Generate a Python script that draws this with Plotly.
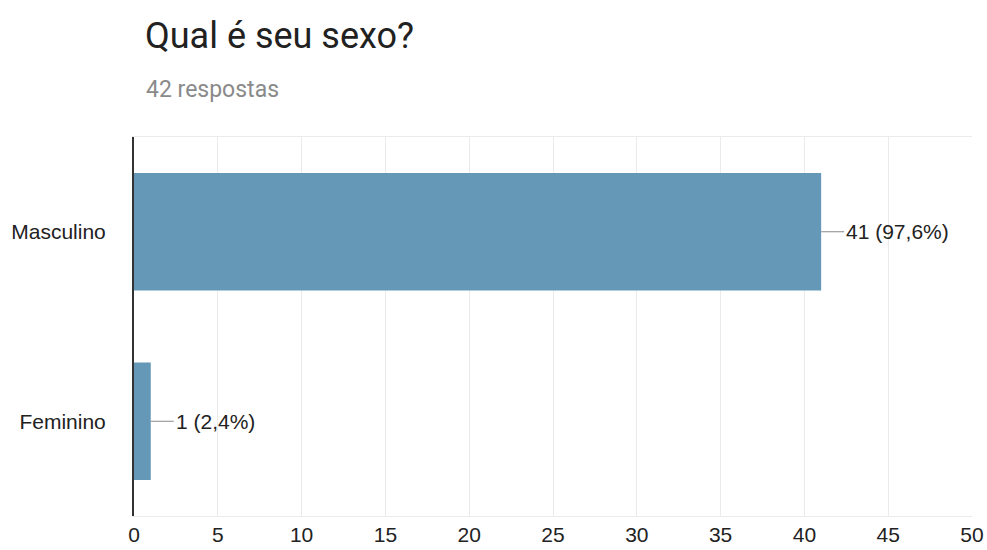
import plotly.graph_objects as go

categories = ["Masculino", "Feminino"]
counts = [41, 1]
labels = ["41 (97,6%)", "1 (2,4%)"]
x_ticks = [0, 5, 10, 15, 20, 25, 30, 35, 40, 45, 50]

W, H = 987, 550
ml, mr, mt, mb = 134, 15, 137, 34

fig = go.Figure()
fig.add_trace(go.Bar(
    x=counts, y=categories, orientation="h",
    marker=dict(color="#6598b6", line=dict(width=0)),
    hoverinfo="skip",
))

for c, v, t in zip(categories, counts, labels):
    fig.add_annotation(
        x=v, y=c, xref="x", yref="y",
        text=t, showarrow=True, arrowhead=0, arrowwidth=1, arrowcolor="#8a8a8a",
        ax=23, ay=0, xanchor="left", yanchor="middle",
        font=dict(family="Arial, Liberation Sans, sans-serif", size=21, color="#222222"),
    )

fig.add_annotation(
    text="42 respostas", xref="paper", yref="paper",
    x=(144 - ml) / (W - ml - mr), y=1 + (137 - 90) / (H - mt - mb),
    xanchor="left", yanchor="middle", showarrow=False,
    font=dict(family="Roboto, sans-serif", size=23, color="#8a8a8a"),
)

fig.update_layout(
    width=W, height=H,
    margin=dict(l=ml, r=mr, t=mt, b=mb, autoexpand=False),
    paper_bgcolor="white", plot_bgcolor="white",
    showlegend=False,
    bargap=0.38,
    title=dict(text="Qual é seu sexo?", xref="container", yref="container",
               x=145 / W, y=1 - 35 / H, xanchor="left", yanchor="middle",
               font=dict(family="Roboto, sans-serif", size=36, color="#212121")),
    xaxis=dict(range=[0, 50], tickvals=x_ticks, showgrid=True, gridcolor="#ebebeb", gridwidth=1,
               zeroline=False, showline=True, linecolor="#ebebeb", linewidth=1, mirror=True,
               automargin=False,
               ticks="", tickfont=dict(family="Arial, Liberation Sans, sans-serif", size=21, color="#222222"),
               fixedrange=True),
    yaxis=dict(categoryorder="array", categoryarray=categories, autorange="reversed",
               showgrid=False, zeroline=False, showline=True, linecolor="#333333", linewidth=2,
               automargin=False,
               ticks="outside", ticklen=22, tickcolor="rgba(0,0,0,0)",
               tickfont=dict(family="Arial, Liberation Sans, sans-serif", size=21, color="#222222"),
               fixedrange=True),
)

fig.write_html("out.html")
